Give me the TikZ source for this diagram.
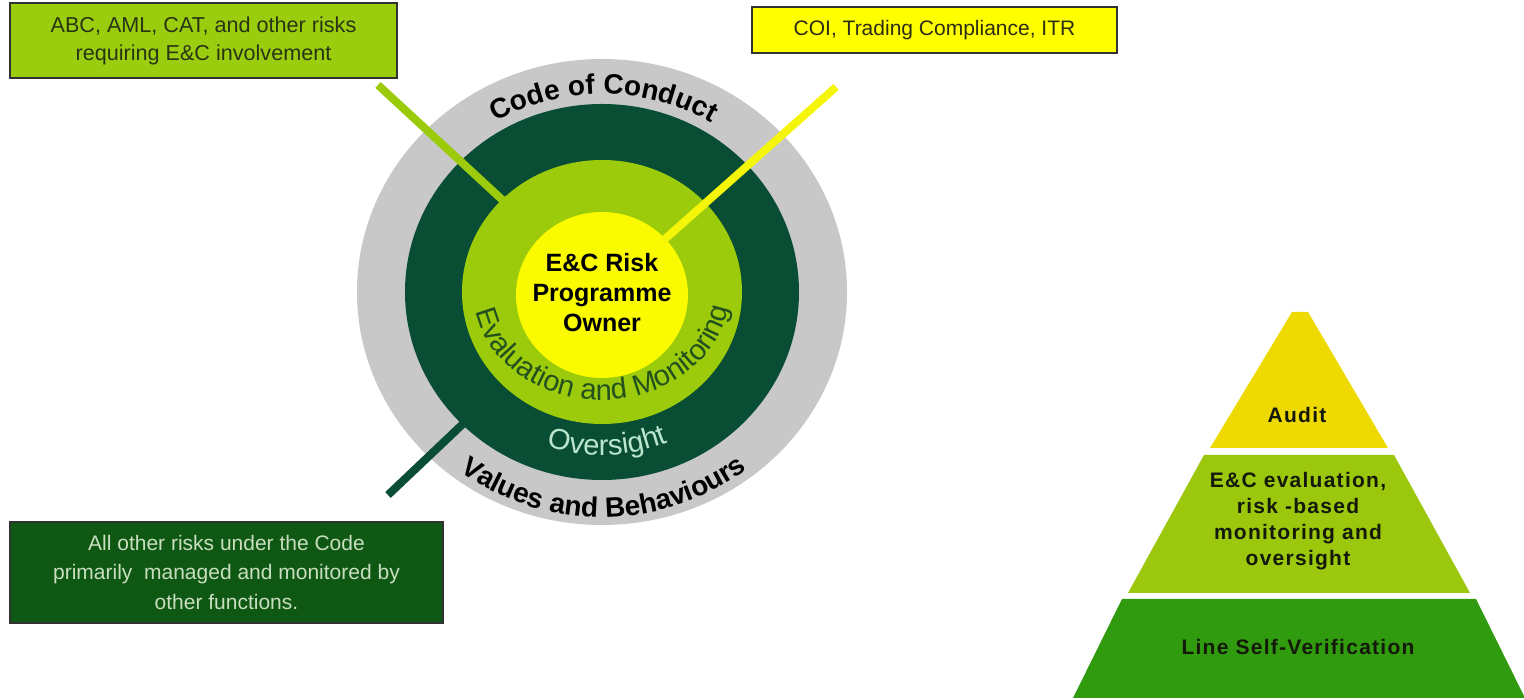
\documentclass[tikz,border=0pt]{standalone}
\usepackage{fontspec}
\setmainfont{Liberation Sans}
\newfontfamily\pyrfont[LetterSpace=6]{Liberation Sans}
\usetikzlibrary{shapes.geometric,decorations.text}
\definecolor{grayring}{RGB}{200,200,200}
\definecolor{darkring}{RGB}{8,77,52}
\definecolor{lightring}{RGB}{155,203,10}
\definecolor{yellowc}{RGB}{250,250,0}
\definecolor{yellowline}{RGB}{245,245,10}
\definecolor{abcfill}{RGB}{155,205,15}
\definecolor{coifill}{RGB}{255,255,0}
\definecolor{othfill}{RGB}{15,88,20}
\definecolor{boxborder}{RGB}{50,50,50}
\definecolor{abcink}{RGB}{40,52,20}
\definecolor{coiink}{RGB}{45,45,20}
\definecolor{othink}{RGB}{200,222,190}
\definecolor{evalink}{RGB}{35,80,30}
\definecolor{ovink}{RGB}{185,230,205}
\definecolor{pyrtop}{RGB}{238,218,0}
\definecolor{pyrmid}{RGB}{155,200,12}
\definecolor{pyrbot}{RGB}{48,155,15}
\definecolor{pyrink}{RGB}{20,25,10}
\newcommand\cocfont{\fontsize{28pt}{28pt}\selectfont\bfseries}
\newcommand\vabfont{\fontsize{28pt}{28pt}\selectfont\bfseries}
\newcommand\evalfont{\fontsize{29pt}{29pt}\selectfont}
\newcommand\ovfont{\fontsize{29pt}{29pt}\selectfont}
\begin{document}
\begin{tikzpicture}[x=1pt,y=1pt,
  ring/.style={ellipse, inner sep=0pt, draw=none},
  infobox/.style={draw=boxborder, line width=1.5pt, inner sep=0pt, align=center},
  link/.style={line width=8pt, shorten >=-4pt},
  pyrtext/.style={font=\pyrfont\fontsize{21pt}{26pt}\selectfont\bfseries, align=center, text=pyrink}
]
\useasboundingbox (0,0) rectangle (1524,700);
\fill[white] (0,0) rectangle (1524,700);
\coordinate (C) at (602,408);
% rings
\node[ring, fill=grayring, minimum width=490pt, minimum height=466pt] (outer) at (C) {};
\node[ring, fill=darkring, minimum width=394pt, minimum height=376pt] (dark) at (C) {};
\node[ring, fill=lightring, minimum width=280pt, minimum height=264pt] (light) at (C) {};
\node[ring, fill=yellowc, minimum width=172pt, minimum height=166pt] (yel) at (602,405) {};
% boxes
\node[infobox, fill=abcfill, text=abcink, minimum width=387pt, minimum height=75pt,
      font=\fontsize{21.6pt}{28pt}\selectfont] (abc) at (203.5,659.5)
      {ABC, AML, CAT, and other risks\\requiring E\&C involvement};
\node[infobox, fill=coifill, text=coiink, minimum width=365pt, minimum height=46pt,
      font=\fontsize{21pt}{28pt}\selectfont] (coi) at (934.5,670)
      {COI, Trading Compliance, ITR};
\node[infobox, fill=othfill, text=othink, minimum width=433pt, minimum height=101pt,
      font=\fontsize{21pt}{29.5pt}\selectfont] (oth) at (226.5,127.5)
      {All other risks under the Code\\primarily\ \ managed and monitored by\\other functions.};
% connectors
\coordinate (abcend) at (378,615);
\coordinate (coiend) at (836,613);
\coordinate (othend) at (388,205);
\draw[link, draw=lightring] (abcend) -- (light);
\draw[link, draw=yellowline] (coiend) -- (yel);
\draw[link, draw=darkring] (othend) -- (dark);
% centre text
\node[font=\fontsize{25pt}{30pt}\selectfont\bfseries, align=center, text=black] (owner) at (602,407.5)
  {E\&C Risk\\Programme\\Owner};
% curved texts
\path[decorate, decoration={text along path, text align=center, text color=black,
      text={|\cocfont|Code of Conduct}}]
  ([shift={(150:209pt and 198pt)}]C) arc[start angle=150, end angle=29, x radius=209pt, y radius=198pt];
\path[decorate, decoration={text along path, text align=center, text color=evalink,
      text={|\evalfont|Evaluation and Monitoring}}]
  ([shift={(170:128pt and 108pt)}]C) arc[start angle=170, end angle=372, x radius=128pt, y radius=108pt];
\path[decorate, decoration={text along path, text align=center, text color=ovink,
      text={|\ovfont|Oversight}}]
  ([shift={(202:172pt and 163pt)}]C) arc[start angle=202, end angle=342, x radius=172pt, y radius=163pt];
\path[decorate, decoration={text along path, text align=center, text color=black,
      text={|\vabfont|Values and Behaviours}}]
  ([shift={(200:236pt and 225pt)}]C) arc[start angle=200, end angle=341, x radius=236pt, y radius=225pt];
% pyramid
\fill[pyrtop] (1292,388) -- (1308,388) -- (1388,252) -- (1210,252) -- cycle;
\fill[pyrmid] (1204,245) -- (1394,245) -- (1470,107) -- (1128,107) -- cycle;
\fill[pyrbot] (1122,101) -- (1476,101) -- (1525,2) -- (1073,2) -- cycle;
\node[pyrtext] (audit) at (1297,285) {Audit};
\node[pyrtext] (eval) at (1298,179) {E\&C evaluation,\\risk -based\\monitoring and\\oversight};
\node[pyrtext] (line) at (1298,53) {Line Self-Verification};
\end{tikzpicture}
\end{document}
